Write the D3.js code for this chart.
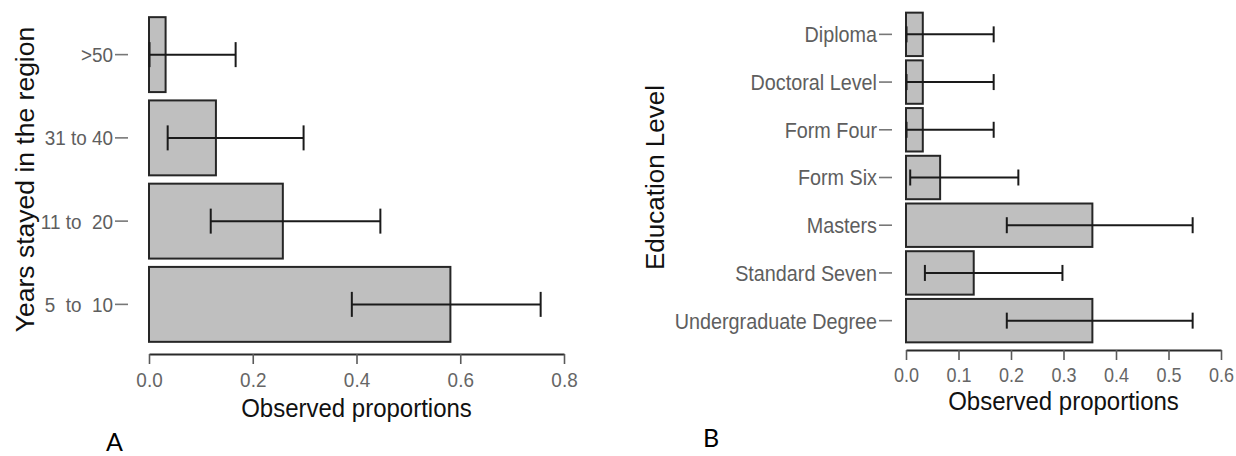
<!DOCTYPE html>
<html>
<head>
<meta charset="utf-8">
<script src="https://cdn.jsdelivr.net/npm/d3@7"></script>
<style>
  html, body { margin: 0; padding: 0; background: #ffffff; }
  svg { display: block; }
  text { font-family: "Liberation Sans", Arial, sans-serif; }
</style>
</head>
<body>
<svg id="chart" width="1236" height="456"></svg>
<script>
// Panel A: years stayed in the region
const yearsCategories = [">50", "31 to 40", "11 to  20", "5  to  10"];
const yearsProportion = [0.032, 0.129, 0.258, 0.581];
const yearsLower = [0.001, 0.036, 0.119, 0.391];
const yearsUpper = [0.167, 0.298, 0.446, 0.755];
const yearsTicks = [0, 0.2, 0.4, 0.6, 0.8];

// Panel B: education level
const educationCategories = ["Diploma", "Doctoral Level", "Form Four", "Form Six", "Masters", "Standard Seven", "Undergraduate Degree"];
const educationProportion = [0.032, 0.032, 0.032, 0.065, 0.355, 0.129, 0.355];
const educationLower = [0.001, 0.001, 0.001, 0.008, 0.192, 0.036, 0.192];
const educationUpper = [0.167, 0.167, 0.167, 0.214, 0.546, 0.298, 0.546];
const educationTicks = [0, 0.1, 0.2, 0.3, 0.4, 0.5, 0.6];

// tick labels use a slightly condensed face
const SQUEEZE = 0.9;

const svg = d3.select("#chart");
svg.append("rect").attr("width", 1236).attr("height", 456).attr("fill", "#ffffff");

function drawPanel(cfg) {
  const g = svg.append("g");
  const rows = cfg.categories.map((c, i) => ({
    cat: c, p: cfg.proportion[i], lo: cfg.lower[i], hi: cfg.upper[i]
  }));

  const x = d3.scaleLinear().domain([0, cfg.ticks[cfg.ticks.length - 1]]).range(cfg.xRange);
  const y = d3.scaleBand().domain(cfg.categories).range(cfg.yRange)
    .paddingInner(cfg.padInner).paddingOuter(cfg.padOuter);

  // bars
  g.selectAll("rect.bar").data(rows).join("rect")
    .attr("class", "bar")
    .attr("x", x(0))
    .attr("y", d => y(d.cat))
    .attr("width", d => x(d.p) - x(0))
    .attr("height", y.bandwidth())
    .attr("fill", "#bfbfbf")
    .attr("stroke", "#262626")
    .attr("stroke-width", 2);

  // confidence intervals
  const eb = g.selectAll("g.err").data(rows).join("g").attr("class", "err")
    .attr("stroke", "#1a1a1a").attr("stroke-width", 2);
  eb.append("line")
    .attr("x1", d => x(d.lo)).attr("x2", d => x(d.hi))
    .attr("y1", d => y(d.cat) + y.bandwidth() / 2)
    .attr("y2", d => y(d.cat) + y.bandwidth() / 2);
  ["lo", "hi"].forEach(k => {
    eb.append("line")
      .attr("x1", d => x(d[k])).attr("x2", d => x(d[k]))
      .attr("y1", d => y(d.cat) + y.bandwidth() / 2 - cfg.capH / 2)
      .attr("y2", d => y(d.cat) + y.bandwidth() / 2 + cfg.capH / 2);
  });

  // x axis
  const xAxis = g.append("g")
    .attr("transform", `translate(0,${cfg.axisY})`)
    .call(d3.axisBottom(x).tickValues(cfg.ticks).tickFormat(d3.format(".1f"))
      .tickSize(10).tickSizeOuter(0));
  xAxis.select(".domain").attr("stroke", "#2a2a2a").attr("stroke-width", 2);
  xAxis.selectAll(".tick line").attr("stroke", "#5a5a5a").attr("stroke-width", 1.6);
  xAxis.selectAll(".tick text")
    .attr("dy", null)
    .attr("y", cfg.xLabelBase)
    .attr("transform", `scale(${SQUEEZE},1)`)
    .attr("fill", "#666666")
    .style("font-size", cfg.xTickSize + "px");

  // y axis (ticks and labels only)
  const yAxis = g.append("g")
    .attr("transform", `translate(${cfg.yAxisX},0)`)
    .call(d3.axisLeft(y).tickSize(cfg.yTickLen).tickPadding(2));
  yAxis.select(".domain").remove();
  yAxis.selectAll(".tick line").attr("stroke", "#777777").attr("stroke-width", 1.6);
  yAxis.selectAll(".tick text")
    .attr("x", -(cfg.yTickLen + 2) / SQUEEZE)
    .attr("transform", `scale(${SQUEEZE},1)`)
    .attr("fill", "#5e5e5e")
    .attr("dy", "0.36em")
    .style("white-space", "pre")
    .style("font-size", cfg.yTickSize + "px");

  // axis titles
  g.append("text")
    .attr("transform", `translate(${(cfg.xRange[0] + cfg.xRange[1]) / 2},${cfg.xTitleBase}) scale(0.96,1)`)
    .attr("text-anchor", "middle")
    .attr("fill", "#111111")
    .style("font-size", "25px")
    .text("Observed proportions");

  g.append("text")
    .attr("transform", `translate(${cfg.yTitleX},${(cfg.yRange[0] + cfg.yRange[1]) / 2}) rotate(-90)`)
    .attr("text-anchor", "middle")
    .attr("dy", "0.35em")
    .attr("fill", "#111111")
    .style("font-size", cfg.yTitleSize + "px")
    .text(cfg.yTitle);

  // panel letter
  g.append("text")
    .attr("x", cfg.letterX).attr("y", cfg.letterY)
    .attr("fill", "#000000")
    .style("font-family", "Lato, 'Open Sans', sans-serif")
    .style("font-size", "25px")
    .text(cfg.letter);
}

drawPanel({
  categories: yearsCategories, proportion: yearsProportion,
  lower: yearsLower, upper: yearsUpper, ticks: yearsTicks,
  xRange: [149, 564], yRange: [13, 346], padInner: 0.1, padOuter: 0.05,
  capH: 25, axisY: 354, xLabelBase: 33, xTickSize: 21,
  yAxisX: 128, yTickLen: 13, yTickSize: 21,
  xTitleBase: 417, yTitleX: 25, yTitle: "Years stayed in the region", yTitleSize: 26.5,
  letter: "A", letterX: 106, letterY: 451
});

drawPanel({
  categories: educationCategories, proportion: educationProportion,
  lower: educationLower, upper: educationUpper, ticks: educationTicks,
  xRange: [906, 1221], yRange: [10.5, 344.5], padInner: 0.09, padOuter: 0.045,
  capH: 16, axisY: 350, xLabelBase: 32, xTickSize: 20,
  yAxisX: 892, yTickLen: 13, yTickSize: 22,
  xTitleBase: 410, yTitleX: 655, yTitle: "Education Level", yTitleSize: 26,
  letter: "B", letterX: 703, letterY: 447
});
</script>
</body>
</html>
